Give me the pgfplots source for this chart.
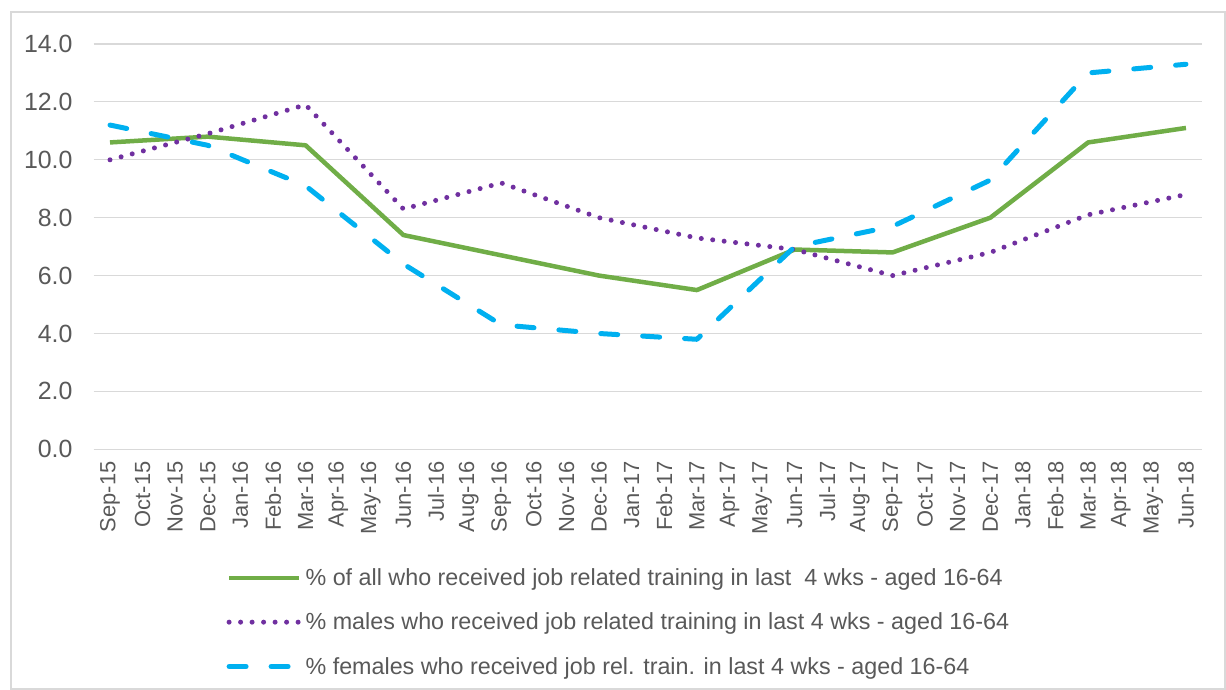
\documentclass[border=0pt]{standalone}
\usepackage{pgfplots}
\pgfplotsset{compat=1.18}
\usepackage{pgfplotstable}
\usepackage{fontspec}
\setmainfont{Liberation Sans}
\definecolor{cgreen}{HTML}{70AD47}
\definecolor{cpurple}{HTML}{7030A0}
\definecolor{ccyan}{HTML}{00B0F0}
\definecolor{ctext}{HTML}{595959}
\definecolor{cgrid}{HTML}{D9D9D9}
\pgfplotstableread{
x all males females
0  10.6 10.0 11.2
3  10.8 10.9 10.5
6  10.5 11.9 9.1
9  7.4  8.3  6.4
12 6.7  9.2  4.3
15 6.0  8.0  4.0
18 5.5  7.3  3.8
21 6.9  6.9  7.0
24 6.8  6.0  7.7
27 8.0  6.8  9.3
30 10.6 8.1  13.0
33 11.1 8.8  13.3
}\datatable
\begin{document}
\begin{tikzpicture}
\useasboundingbox (0,0) rectangle (1226bp,690bp);
\draw[cgrid, line width=1.5bp] (11bp,1bp) rectangle (1225bp,678bp);
\begin{axis}[
 at={(93.7bp,240.7bp)}, anchor=south west,
 scale only axis, width=1108.6bp, height=405.3bp,
 xmin=-0.5, xmax=33.5, ymin=0, ymax=14,
 axis x line*=bottom, axis y line*=left,
 y axis line style={draw=none},
 x axis line style={cgrid, line width=1.2bp, -},
 xtick={0,...,33},
 xticklabels={Sep-15,Oct-15,Nov-15,Dec-15,Jan-16,Feb-16,Mar-16,Apr-16,May-16,Jun-16,Jul-16,Aug-16,Sep-16,Oct-16,Nov-16,Dec-16,Jan-17,Feb-17,Mar-17,Apr-17,May-17,Jun-17,Jul-17,Aug-17,Sep-17,Oct-17,Nov-17,Dec-17,Jan-18,Feb-18,Mar-18,Apr-18,May-18,Jun-18},
 minor xtick={-0.5,0.5,...,33.5},
 tick align=outside,
 major tick length=0bp, minor tick length=6bp,
 xtick style={draw=none}, ytick style={draw=none},
 minor x tick style={cgrid, line width=1bp},
 ytick={0,2,...,14},
 yticklabels={0.0,2.0,4.0,6.0,8.0,10.0,12.0,14.0},
 ymajorgrids, major grid style={cgrid, line width=1.2bp},
 xticklabel style={rotate=90, anchor=east, inner sep=0pt, font=\fontsize{22}{22}\selectfont, text=ctext},
 yticklabel style={anchor=east, inner sep=0pt, font=\fontsize{25}{25}\selectfont, text=ctext},
 xticklabel shift=12bp, yticklabel shift=21bp,
 legend style={at={(0.117,-0.284)}, anchor=north west, draw=none, fill=none,
   font=\fontsize{23.4}{23.4}\selectfont, text=ctext, row sep=22bp, cells={anchor=west}},
 legend image code/.code={\draw[#1] (0bp,0bp) -- (70bp,0bp);},
 clip=false,
]
\addplot[cgreen, line width=4.5bp, line join=round] table[x=x, y=all] {\datatable};
\addlegendentry{\hspace{2bp}\% of all who received job related training in last\ \ 4 wks - aged 16-64}
\addplot[cpurple, line width=5bp, line cap=round, dash pattern=on 0bp off 11.5bp] table[x=x, y=males] {\datatable};
\addlegendentry{\hspace{2bp}\% males who received job related training in last 4 wks - aged 16-64}
\addplot[ccyan, line width=5bp, line cap=round, line join=round, dash pattern=on 17bp off 25bp] table[x=x, y=females] {\datatable};
\addlegendentry{\hspace{2bp}\% females who received job rel. train. in last 4 wks - aged 16-64}
\end{axis}
\end{tikzpicture}
\end{document}
